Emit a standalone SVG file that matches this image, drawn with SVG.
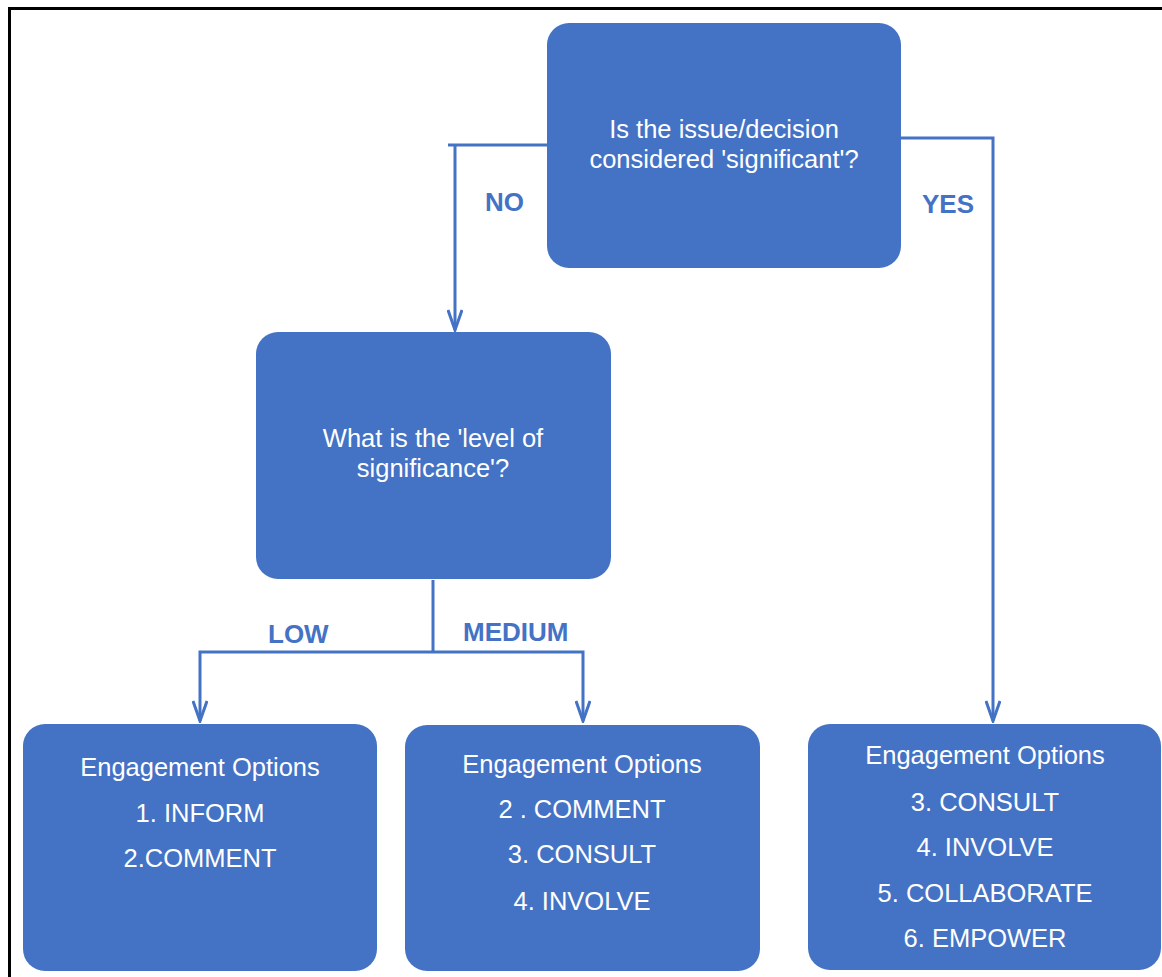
<svg xmlns="http://www.w3.org/2000/svg" width="1162" height="977" viewBox="0 0 1162 977">
<defs>
<style>
.node{fill:#4472C4;}
.nt{fill:#FFFFFF;font-family:"Liberation Sans",Arial,sans-serif;font-size:25.5px;text-anchor:middle;}
.lbl{fill:#4472C4;font-family:"Liberation Sans",Arial,sans-serif;font-size:26px;font-weight:bold;}
.conn{fill:none;stroke:#4472C4;stroke-width:3;stroke-linejoin:miter;}
</style>
<marker id="arr" viewBox="0 0 24 16" refX="22" refY="8" markerWidth="24" markerHeight="16" markerUnits="userSpaceOnUse" orient="auto">
<path d="M2,1 L22,8 L2,15" fill="none" stroke="#4472C4" stroke-width="3"/>
</marker>
</defs>
<rect x="0" y="0" width="1162" height="977" fill="#FFFFFF"/>
<path d="M9.5,977 V8.5 H1162" fill="none" stroke="#000000" stroke-width="3"/>
<g id="connectors">
<path class="conn" d="M547,145 H448 M455,145 V330" marker-end="url(#arr)"/>
<path class="conn" d="M901,138 H993 V721" marker-end="url(#arr)"/>
<path class="conn" d="M433,580 V652"/>
<path class="conn" d="M433,652 H200 V721" marker-end="url(#arr)"/>
<path class="conn" d="M433,652 H583 V721" marker-end="url(#arr)"/>
</g>
<g id="labels">
<text class="lbl" x="485" y="211">NO</text>
<text class="lbl" x="922" y="213">YES</text>
<text class="lbl" x="268" y="643">LOW</text>
<text class="lbl" x="463" y="641">MEDIUM</text>
</g>
<g id="node-significant">
<rect class="node" x="547" y="23" width="354" height="245" rx="22"/>
<text class="nt" x="724" y="138">Is the issue/decision</text>
<text class="nt" x="724" y="168">considered 'significant'?</text>
</g>
<g id="node-level">
<rect class="node" x="256" y="332" width="355" height="247" rx="22"/>
<text class="nt" x="433" y="447">What is the 'level of</text>
<text class="nt" x="433" y="477">significance'?</text>
</g>
<g id="node-low">
<rect class="node" x="23" y="724" width="354" height="247" rx="22"/>
<text class="nt" x="200" y="776">Engagement Options</text>
<text class="nt" x="200" y="822">1. INFORM</text>
<text class="nt" x="200" y="867">2.COMMENT</text>
</g>
<g id="node-medium">
<rect class="node" x="405" y="725" width="355" height="246" rx="22"/>
<text class="nt" x="582" y="773">Engagement Options</text>
<text class="nt" x="582" y="818">2 . COMMENT</text>
<text class="nt" x="582" y="863">3. CONSULT</text>
<text class="nt" x="582" y="910">4. INVOLVE</text>
</g>
<g id="node-yes">
<rect class="node" x="808" y="724" width="353" height="246" rx="22"/>
<text class="nt" x="985" y="764">Engagement Options</text>
<text class="nt" x="985" y="811">3. CONSULT</text>
<text class="nt" x="985" y="856">4. INVOLVE</text>
<text class="nt" x="985" y="902">5. COLLABORATE</text>
<text class="nt" x="985" y="947">6. EMPOWER</text>
</g>
</svg>
